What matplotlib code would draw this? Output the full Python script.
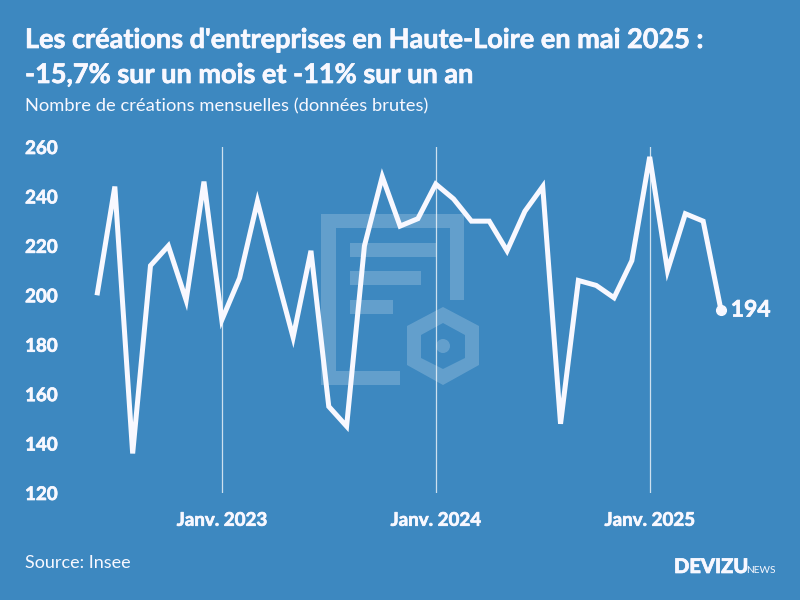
import matplotlib
matplotlib.use('Agg')
import matplotlib.pyplot as plt
import matplotlib.patheffects as pe
from matplotlib.patches import PathPatch, Circle
from matplotlib.path import Path

BG = '#3d88c0'
WHITE = '#f8f8ff'

values = [200, 244, 136, 212, 220, 198, 246, 190, 207, 238, 210, 183,
          218, 155, 147, 220, 248, 228, 231, 245, 239, 230, 230, 218,
          234, 244, 148, 206, 204, 199, 214, 256, 210, 233, 230, 194]
year_ticks = [7, 19, 31]
year_labels = ['Janv. 2023', 'Janv. 2024', 'Janv. 2025']
y_ticks = [120, 140, 160, 180, 200, 220, 240, 260]

plt.rcParams['font.family'] = ['Lato', 'DejaVu Sans']

fig = plt.figure(figsize=(8, 6), dpi=100, facecolor=BG)
heavy = [pe.withStroke(linewidth=0.5, foreground=WHITE)]


def fx(px):
    return px / 800


def fy(py):
    return 1 - py / 600


# watermark logo, drawn in pixel coordinates
bg_ax = fig.add_axes([0, 0, 1, 1], zorder=0)
bg_ax.set_xlim(0, 800)
bg_ax.set_ylim(600, 0)
bg_ax.axis('off')


def poly(points):
    verts = points + [points[0]]
    codes = [Path.MOVETO] + [Path.LINETO] * (len(points) - 1) + [Path.CLOSEPOLY]
    return verts, codes


shapes = [
    [(321, 214), (464, 214), (464, 300), (450, 300), (450, 228), (336, 228),
     (336, 371), (400, 371), (400, 385), (321, 385)],
    [(350, 243), (436, 243), (436, 257), (350, 257)],
    [(350, 271), (421, 271), (421, 285), (350, 285)],
    [(350, 300), (393, 300), (393, 314), (350, 314)],
]
for shape in shapes:
    v, c = poly(shape)
    bg_ax.add_patch(PathPatch(Path(v, c), fc='white', ec='none', alpha=0.2))

outer = [(443, 307), (479, 326), (479, 365), (443, 385), (407, 365), (407, 326)]
inner = [(443, 323), (421, 335), (421, 358), (443, 369), (465, 358), (465, 335)]
v1, c1 = poly(outer)
v2, c2 = poly(inner)
bg_ax.add_patch(PathPatch(Path(v1 + v2, c1 + c2), fc='white', ec='none', alpha=0.2))
bg_ax.add_patch(Circle((443, 346), 7, fc='white', ec='none', alpha=0.2))

# chart
ax = fig.add_axes([fx(97), fy(493), fx(721 - 97), (493 - 147) / 600], zorder=1)
ax.patch.set_alpha(0)
for s in ax.spines.values():
    s.set_visible(False)

months = list(range(len(values)))
for m in year_ticks:
    ax.axvline(m, color='white', lw=0.9, alpha=0.75, zorder=1)
ax.plot(months, values, color=WHITE, lw=3.6, solid_joinstyle='miter',
        solid_capstyle='butt', clip_on=False, zorder=2)
ax.plot(months[-1], values[-1], 'o', color=WHITE, ms=7, clip_on=False, zorder=3)
ax.annotate(str(values[-1]), (months[-1], values[-1]), xytext=(7, 0),
            textcoords='offset points', color=WHITE, fontsize=16.5, fontweight='bold',
            va='center', ha='left', path_effects=heavy)

ax.set_xlim(0, 35)
ax.set_ylim(120, 260)
ax.set_xticks(year_ticks)
ax.set_xticklabels(year_labels, fontweight='bold', fontsize=13.5, color=WHITE, path_effects=heavy)
ax.set_yticks(y_ticks)
ax.set_yticklabels(y_ticks, fontweight='bold', fontsize=13.5, color=WHITE, ha='left',
                   va='center_baseline', path_effects=heavy)
ax.tick_params(axis='x', length=0, pad=13.5)
ax.tick_params(axis='y', length=0, pad=51.8)

# text
fig.text(fx(25), fy(48), "Les créations d'entreprises en Haute-Loire en mai 2025 :",
         color=WHITE, fontsize=19.5, fontweight='bold', va='baseline', ha='left', path_effects=heavy)
fig.text(fx(25), fy(83), '-15,7% sur un mois et -11% sur un an',
         color=WHITE, fontsize=19.5, fontweight='bold', va='baseline', ha='left', path_effects=heavy)
fig.text(fx(25), fy(111), 'Nombre de créations mensuelles (données brutes)',
         color=WHITE, fontsize=13.2, va='baseline', ha='left')
fig.text(fx(25), fy(568), 'Source: Insee', color=WHITE, fontsize=13, va='baseline', ha='left')
fig.text(fx(674), fy(573), 'DEVIZU', color=WHITE, fontsize=14.5, fontweight='black',
         va='baseline', ha='left', path_effects=heavy)
fig.text(fx(746.5), fy(573), 'NEWS', color=WHITE, fontsize=7.3, va='baseline', ha='left')

fig.savefig('out.png', dpi=100, facecolor=BG)
